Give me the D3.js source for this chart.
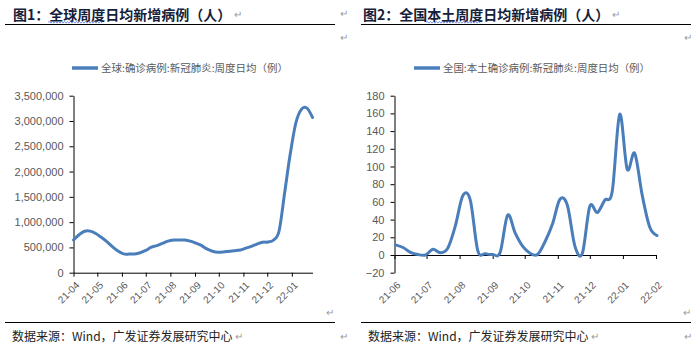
<!DOCTYPE html>
<html><head><meta charset="utf-8">
<script src="https://cdn.jsdelivr.net/npm/d3@7"></script>
<style>html,body{margin:0;padding:0;background:#fff;}svg{display:block;}</style>
</head><body>
<svg id="c" width="696" height="355"></svg>
<script>
// ---------- DATA ----------
const leftTitle = "图1：全球周度日均新增病例（人）";
const leftLegend = "全球:确诊病例:新冠肺炎:周度日均（例）";
const leftDates = ["2021-04-01","2021-04-08","2021-04-15","2021-04-22","2021-04-29","2021-05-06","2021-05-13","2021-05-20","2021-05-27",
  "2021-06-03","2021-06-10","2021-06-17","2021-06-24","2021-07-01","2021-07-08","2021-07-15","2021-07-22","2021-07-29",
  "2021-08-05","2021-08-12","2021-08-19","2021-08-26","2021-09-02","2021-09-09","2021-09-16","2021-09-23","2021-09-30",
  "2021-10-07","2021-10-14","2021-10-21","2021-10-28","2021-11-04","2021-11-11","2021-11-18","2021-11-25",
  "2021-12-02","2021-12-09","2021-12-16","2021-12-23","2021-12-30","2022-01-06","2022-01-13","2022-01-20","2022-01-27"];
const leftValues = [647000,750000,820000,822000,775000,700000,613000,515000,430000,
  372000,368000,372000,395000,440000,505000,534000,580000,625000,
  645000,648000,645000,625000,585000,540000,470000,425000,403000,
  410000,425000,435000,450000,485000,520000,565000,
  602000,607000,647000,830000,1590000,2350000,2960000,3230000,3255000,3070000];
const leftXTicks = ["21-04","21-05","21-06","21-07","21-08","21-09","21-10","21-11","21-12","22-01"];
const leftYTicks = [0,500000,1000000,1500000,2000000,2500000,3000000,3500000];

const rightTitle = "图2：全国本土周度日均新增病例（人）";
const rightLegend = "全国:本土确诊病例:新冠肺炎:周度日均（例）";
const rightDates = ["2021-06-02","2021-06-09","2021-06-16","2021-06-23","2021-06-30","2021-07-07","2021-07-14","2021-07-21","2021-07-28",
  "2021-08-04","2021-08-11","2021-08-18","2021-08-25","2021-09-01","2021-09-08","2021-09-15","2021-09-22","2021-09-29",
  "2021-10-06","2021-10-13","2021-10-20","2021-10-27","2021-11-03","2021-11-10","2021-11-17","2021-11-24",
  "2021-12-01","2021-12-08","2021-12-15","2021-12-22","2021-12-29","2022-01-05","2022-01-12","2022-01-19","2022-01-26","2022-02-02"];
const rightValues = [11.5,8.5,3,0.5,0,6.5,2.5,8,33,
  67,62,5,1.5,0.5,3,45,25,10,
  2,0.5,15,35,63,56,10,2,
  55,48,62,72,159,97,115,68,32,22];
const rightXTicks = ["21-06","21-07","21-08","21-09","21-10","21-11","21-12","22-01","22-02"];
const rightYTicks = [-20,0,20,40,60,80,100,120,140,160,180];

const sourceText = "数据来源：Wind，广发证券发展研究中心";

// ---------- DRAW ----------
const svg = d3.select("#c");
const parseDate = d3.timeParse("%Y-%m-%d");
const parseTick = d3.timeParse("%y-%m");
const LINE = "#4a7ebb", GREY = "#595959", CJK = "'Noto Sans CJK SC','Noto Sans',sans-serif", LAT = "'Liberation Sans',Arial,sans-serif";

function wavy(x0, x1, y) {
  let p = `M${x0},${y}`; let up = true;
  for (let x = x0 + 1.5; x <= x1; x += 1.5) { p += `L${x},${y + (up ? -0.9 : 0.9)}`; up = !up; }
  return p;
}
function ret(x, y) {
  svg.append("text").attr("x", x).attr("y", y).attr("font-size", 10).attr("fill", "#9a9a9a")
    .attr("font-family", CJK).text("↵");
}

function panel(cfg) {
  const g = svg.append("g");
  // title
  const t = g.append("text").attr("x", cfg.titleX).attr("y", 19.5).attr("font-family", CJK).attr("font-weight", 700)
    .attr("font-size", 14).attr("fill", "#15213a").text(cfg.title);
  ret(cfg.titleX + t.node().getComputedTextLength() + 3, 18);
  g.append("path").attr("d", wavy(cfg.wave[0], cfg.wave[1], 22.3)).attr("fill", "none")
    .attr("stroke", "#5b7fe0").attr("stroke-width", 0.8);
  g.append("line").attr("x1", cfg.rule[0]).attr("x2", cfg.rule[1]).attr("y1", 24.5).attr("y2", 24.5)
    .attr("stroke", "#000").attr("stroke-width", 1);
  g.append("line").attr("x1", cfg.rule[0]).attr("x2", cfg.rule[1]).attr("y1", 322.5).attr("y2", 322.5)
    .attr("stroke", "#000").attr("stroke-width", 1);
  const s = g.append("text").attr("x", cfg.rule[0] + 7).attr("y", 341).attr("font-family", CJK)
    .attr("font-size", 12).attr("fill", "#222").text(sourceText);
  ret(cfg.rule[0] + 7 + s.node().getComputedTextLength() + 2, 340);

  // legend
  g.append("line").attr("x1", cfg.legX).attr("x2", cfg.legX + 26).attr("y1", 68).attr("y2", 68)
    .attr("stroke", LINE).attr("stroke-width", 3.5);
  g.append("text").attr("x", cfg.legX + 29).attr("y", 68).attr("dy", "0.35em").attr("font-family", CJK)
    .attr("font-size", 10).attr("fill", GREY).attr("textLength", cfg.legW).attr("lengthAdjust", "spacingAndGlyphs")
    .text(cfg.legend);

  const top = 95.7, bottom = 272.7;
  const x = d3.scaleTime().domain(cfg.xDomain.map(parseDate)).range([cfg.x0, cfg.x1]);
  const y = d3.scaleLinear().domain(cfg.yDomain).range([bottom, top]);

  // y axis
  const ya = g.append("g").attr("transform", `translate(${cfg.x0},0)`)
    .call(d3.axisLeft(y).tickValues(cfg.yTicks).tickFormat(cfg.yFmt).tickSize(4).tickSizeOuter(0).tickPadding(6));
  ya.select(".domain").attr("stroke", "#000");
  ya.selectAll(".tick line").attr("stroke", "#000");
  ya.selectAll("text").attr("font-family", LAT).attr("font-size", 11).attr("fill", GREY);

  // x axis (at y=0)
  const tickDates = cfg.xTicks.map(parseTick);
  const xa = g.append("g").attr("transform", `translate(0,${y(0)})`)
    .call(d3.axisBottom(x).tickValues(tickDates).tickFormat("").tickSize(4).tickSizeOuter(0));
  xa.select(".domain").attr("stroke", "#000");
  xa.selectAll(".tick line").attr("stroke", "#000");

  // rotated labels at bottom
  g.selectAll(".xl").data(cfg.xTicks).join("text")
    .attr("transform", d => `translate(${x(parseTick(d)) + 1.5},${bottom + 8}) rotate(-45)`)
    .attr("text-anchor", "end").attr("dy", "0.72em")
    .attr("font-family", LAT).attr("font-size", 10).attr("fill", GREY).text(d => d);

  // line
  const pts = cfg.dates.map((d, i) => [x(parseDate(d)), y(cfg.values[i])]);
  g.append("path").attr("d", d3.line().curve(d3.curveCardinal.tension(0))(pts))
    .attr("fill", "none").attr("stroke", LINE).attr("stroke-width", 3).attr("stroke-linejoin", "round").attr("stroke-linecap", "round");
}

panel({
  title: leftTitle, titleX: 13, wave: [48, 103], rule: [5, 335],
  legend: leftLegend, legX: 72, legW: 187,
  x0: 73.5, x1: 312.5, xDomain: ["2021-04-01", "2022-01-27"],
  yDomain: [0, 3500000], yTicks: leftYTicks, yFmt: d3.format(","),
  xTicks: leftXTicks, dates: leftDates, values: leftValues
});
panel({
  title: rightTitle, titleX: 363, wave: [426, 481], rule: [361, 691],
  legend: rightLegend, legX: 414, legW: 207,
  x0: 394.5, x1: 656, xDomain: ["2021-06-01", "2022-02-01"],
  yDomain: [-20, 180], yTicks: rightYTicks, yFmt: d3.format("d"),
  xTicks: rightXTicks, dates: rightDates, values: rightValues
});

// paragraph marks
ret(340, 17); ret(340, 41); ret(684, 41);
ret(326, 316); ret(683, 316);
ret(340, 340); ret(684, 340);
</script>
</body></html>
